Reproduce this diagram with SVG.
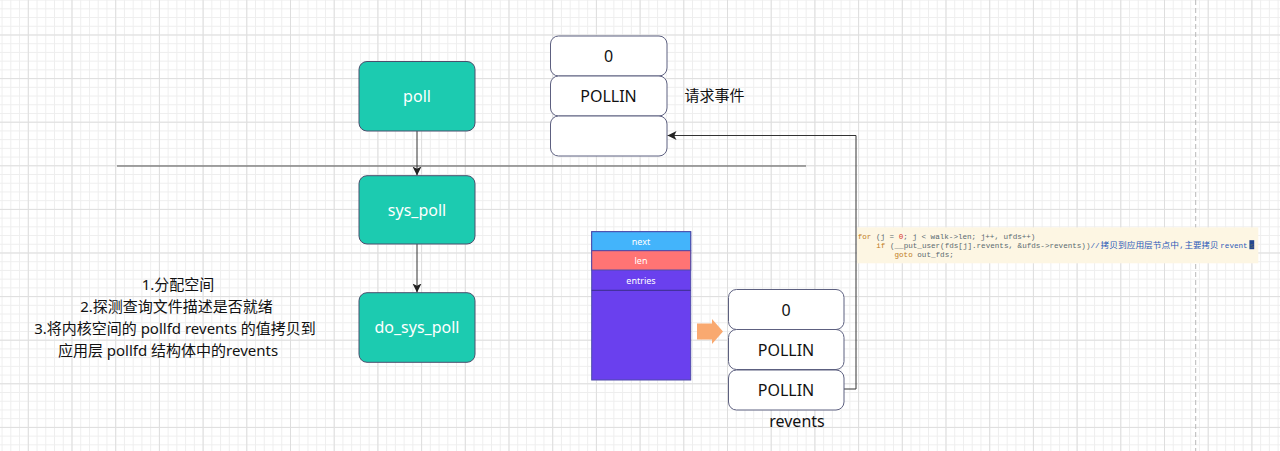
<svg xmlns="http://www.w3.org/2000/svg" width="1280" height="451" viewBox="0 0 1280 451">
<defs>
<pattern id="minor" x="27.8" y="34.5" width="8.74" height="8.72" patternUnits="userSpaceOnUse">
<path d="M0.5 0V8.72M0 0.5H8.74" fill="none" stroke="#eeeeee" stroke-width="1"/>
</pattern>
<pattern id="major" x="27.8" y="34.5" width="43.7" height="43.6" patternUnits="userSpaceOnUse">
<path d="M0.5 0V43.6M0 0.5H43.7" fill="none" stroke="#dedede" stroke-width="1"/>
</pattern>
<marker id="arr" viewBox="0 0 10 10" refX="10" refY="5" markerWidth="9" markerHeight="9" markerUnits="userSpaceOnUse" orient="auto">
<path d="M0 0L10 5L0 10L2.5 5Z" fill="#222"/>
</marker>
<style>
.fn{fill:#1ccbb0;stroke:#4b4e6d;stroke-width:1}
.ft{font-family:"Noto Sans","Noto Sans CJK SC",sans-serif;font-size:16px;fill:#fff;text-anchor:middle}
.cell{fill:#fff;stroke:#5d6080;stroke-width:1}
.ct{font-family:"Noto Sans","Noto Sans CJK SC",sans-serif;font-size:16px;fill:#111;text-anchor:middle}
.lt{font-family:"Noto Sans","Noto Sans CJK SC",sans-serif;font-size:15px;fill:#111;text-anchor:middle}
.st{font-family:"Noto Sans",sans-serif;font-size:9px;fill:#fff;text-anchor:middle}
.code{font-family:"Liberation Mono","Noto Sans CJK SC",monospace;font-size:7.6px;fill:#5a6a70}
.kw{fill:#c17d1e}
.num{fill:#d8372a}
.cm{fill:#2c59b8}
.cjk{font-family:"Noto Sans CJK SC",sans-serif}
.conn{fill:none;stroke:#333;stroke-width:1}
</style>
</defs>
<rect width="1280" height="451" fill="#fff"/>
<rect width="1280" height="451" fill="url(#minor)"/>
<rect width="1280" height="451" fill="url(#major)"/>
<line x1="1195.7" y1="0" x2="1195.7" y2="451" stroke="#b8b8b8" stroke-width="1" stroke-dasharray="5 3"/>

<g id="divider">
<line x1="117" y1="166" x2="806" y2="166" stroke="#555" stroke-width="1"/>
</g>

<g id="connectors">
<line class="conn" x1="417" y1="131" x2="417" y2="175.5" marker-end="url(#arr)"/>
<line class="conn" x1="417" y1="244" x2="417" y2="292.5" marker-end="url(#arr)"/>
<path class="conn" d="M844 389H856V135.5H667.5" marker-end="url(#arr)"/>
</g>

<g id="poll">
<rect class="fn" x="359" y="61.5" width="116" height="69.5" rx="8"/>
<text class="ft" x="417" y="101.5">poll</text>
</g>
<g id="sys_poll">
<rect class="fn" x="359" y="175.7" width="116" height="68.3" rx="8"/>
<text class="ft" x="417" y="215.5">sys_poll</text>
</g>
<g id="do_sys_poll">
<rect class="fn" x="359" y="292.7" width="116" height="69.6" rx="8"/>
<text class="ft" x="417" y="333">do_sys_poll</text>
</g>

<g id="user_pollfd">
<rect class="cell" x="550.5" y="36" width="116.5" height="40" rx="8"/>
<text class="ct" x="608.5" y="62">0</text>
<rect class="cell" x="550.5" y="76" width="116.5" height="40" rx="8"/>
<text class="ct" x="608.5" y="102">POLLIN</text>
<rect class="cell" x="550.5" y="116" width="116.5" height="40" rx="8"/>
</g>
<g id="label_req">
<text class="lt" x="714.5" y="100.5">请求事件</text>
</g>

<g id="poll_list">
<rect x="591.7" y="231.7" width="99" height="148.3" fill="#6a40ee" stroke="#4e4aa8" stroke-width="1"/>
<rect x="591.7" y="231.7" width="99" height="19" fill="#43b4fb" stroke="#4e4aa8" stroke-width="1"/>
<rect x="591.7" y="250.7" width="99" height="19.3" fill="#ff7474" stroke="#4e4aa8" stroke-width="1"/>
<line x1="591.7" y1="290.3" x2="690.7" y2="290.3" stroke="#3a2d8a" stroke-width="1"/>
<text class="st" x="641" y="245">next</text>
<text class="st" x="641" y="263.5">len</text>
<text class="st" x="641" y="284">entries</text>
</g>

<g id="copy_arrow">
<path d="M697 323.5H712V319L723 331.5L712 344V339.5H697Z" fill="#f9a970"/>
</g>

<g id="kernel_pollfd">
<rect class="cell" x="728.5" y="289.5" width="115.5" height="40" rx="8"/>
<text class="ct" x="786" y="316">0</text>
<rect class="cell" x="728.5" y="329.5" width="115.5" height="40" rx="8"/>
<text class="ct" x="786" y="356">POLLIN</text>
<rect class="cell" x="728.5" y="370" width="115.5" height="40" rx="8"/>
<text class="ct" x="786" y="396">POLLIN</text>
<text class="ct" x="797" y="427">revents</text>
</g>

<g id="steps">
<text class="lt" x="178" y="290">1.分配空间</text>
<text class="lt" x="176.5" y="312">2.探测查询文件描述是否就绪</text>
<text class="lt" x="175" y="334">3.将内核空间的 pollfd revents 的值拷贝到</text>
<text class="lt" x="168" y="356">应用层 pollfd 结构体中的revents</text>
</g>

<g id="code">
<rect x="857" y="227.3" width="401.3" height="36" fill="#fdf6e3"/>
<text class="code" x="857.7" y="238.5"><tspan class="kw">for</tspan> (j = <tspan class="num">0</tspan>; j &lt; walk-&gt;len; j++, ufds++)</text>
<text class="code" y="247.5"><tspan x="876.3" class="kw">if</tspan> (__put_user(fds[j].revents, &amp;ufds-&gt;revents))<tspan class="cm">//</tspan><tspan class="cm cjk" x="1100.5" textLength="78.5" lengthAdjust="spacingAndGlyphs">拷贝到应用层节点中</tspan><tspan class="cm" x="1179.5">,</tspan><tspan class="cm cjk" x="1184.5" textLength="34" lengthAdjust="spacingAndGlyphs">主要拷贝</tspan><tspan class="cm" x="1220.3">revent</tspan></text>
<rect x="1249.4" y="240.2" width="4.8" height="9" fill="#24478f"/>
<text class="code" x="1249.5" y="247.5" fill="#e8eefc">s</text>
<text class="code" x="894.5" y="256.5"><tspan class="kw">goto</tspan> out_fds;</text>
</g>
</svg>
